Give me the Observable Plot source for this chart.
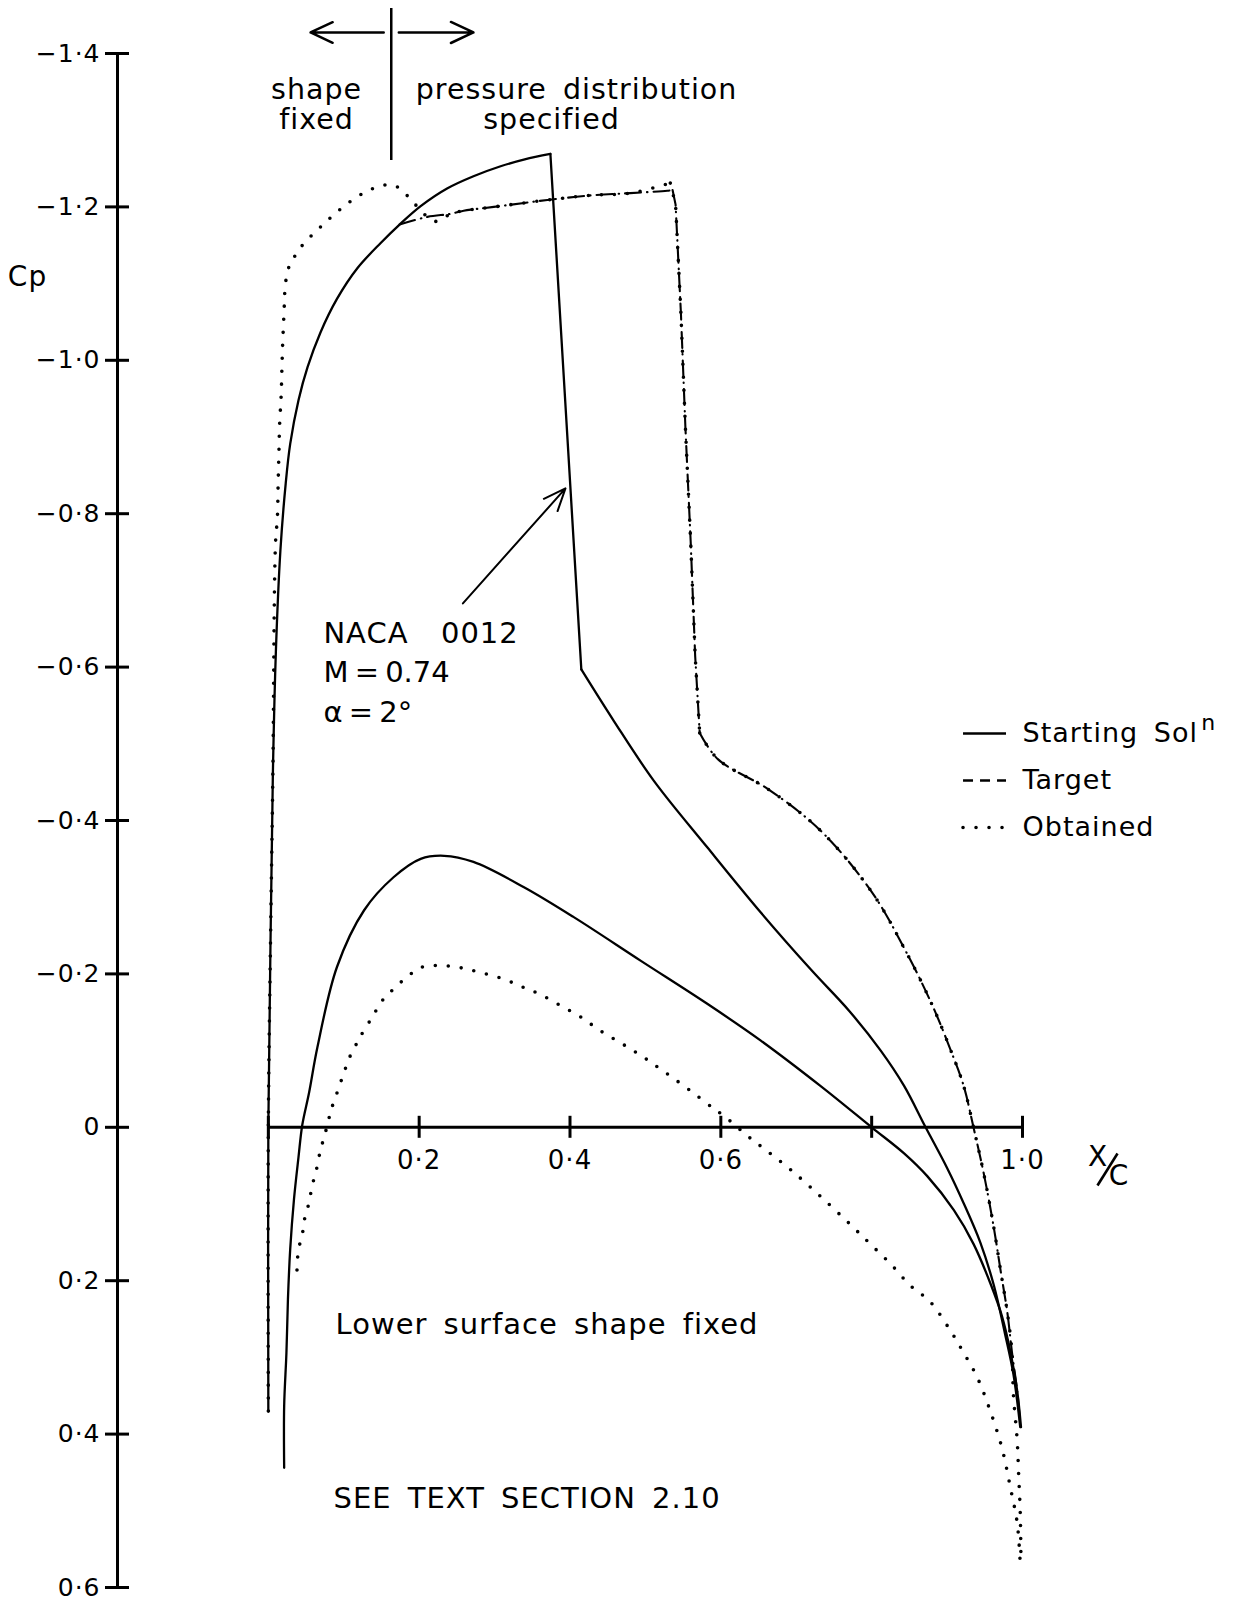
<!DOCTYPE html>
<html>
<head>
<meta charset="utf-8">
<script src="https://cdn.jsdelivr.net/npm/d3@7"></script>
<script src="https://cdn.jsdelivr.net/npm/@observablehq/plot@0.6"></script>
<style>
  html, body { margin: 0; padding: 0; background: #fff; }
  #chart svg { display: block; letter-spacing: 1px; word-spacing: 6px; }
</style>
</head>
<body>
<div id="chart"></div>
<script>
// Pressure distributions (Cp against x/c), NACA 0012, M = 0.74, alpha = 2 deg.
// Each series is a list of [x/c, Cp] pairs.

const startingUpper = [
  [0.000, 0.370], [0.000, 0.000], [0.003, -0.250], [0.006, -0.460], [0.010, -0.620],
  [0.016, -0.752], [0.023, -0.839], [0.029, -0.891], [0.040, -0.948], [0.052, -0.991],
  [0.069, -1.036], [0.091, -1.080], [0.118, -1.120], [0.149, -1.153], [0.174, -1.177],
  [0.202, -1.201], [0.237, -1.224], [0.272, -1.240], [0.308, -1.253], [0.340, -1.262],
  [0.374, -1.269], [0.415, -0.597], [0.458, -0.530], [0.511, -0.452], [0.582, -0.365],
  [0.653, -0.280], [0.720, -0.205], [0.770, -0.152], [0.812, -0.100], [0.843, -0.054],
  [0.871, -0.001], [0.900, 0.053], [0.922, 0.099], [0.944, 0.150], [0.962, 0.206],
  [0.977, 0.270], [0.988, 0.322], [0.997, 0.391]
];

const startingLower = [
  [0.021, 0.444], [0.021, 0.363], [0.024, 0.294], [0.026, 0.224], [0.029, 0.159],
  [0.034, 0.094], [0.040, 0.039], [0.045, -0.003], [0.054, -0.045], [0.065, -0.104],
  [0.091, -0.209], [0.127, -0.283], [0.166, -0.326], [0.202, -0.350], [0.233, -0.354],
  [0.272, -0.346], [0.339, -0.313], [0.405, -0.274], [0.494, -0.217], [0.582, -0.161],
  [0.653, -0.113], [0.732, -0.054], [0.800, 0.000], [0.843, 0.034], [0.874, 0.064],
  [0.909, 0.108], [0.935, 0.152], [0.958, 0.205], [0.973, 0.247], [0.984, 0.293],
  [0.993, 0.344], [0.998, 0.391]
];

const target = [
  [0.174, -1.177], [0.211, -1.187], [0.242, -1.191], [0.259, -1.195], [0.299, -1.200],
  [0.370, -1.209], [0.427, -1.215], [0.480, -1.218], [0.529, -1.221], [0.536, -1.222],
  [0.540, -1.203], [0.547, -1.063], [0.553, -0.913], [0.560, -0.764], [0.566, -0.614],
  [0.572, -0.514], [0.596, -0.480], [0.664, -0.440], [0.732, -0.387], [0.800, -0.307],
  [0.845, -0.230], [0.880, -0.160], [0.905, -0.100], [0.922, -0.054], [0.935, 0.000],
  [0.949, 0.062], [0.962, 0.131], [0.971, 0.187], [0.980, 0.242], [0.986, 0.293],
  [0.993, 0.344], [0.997, 0.386]
];

const obtainedUpper = [
  [0.000, 0.370], [0.000, 0.000], [0.003, -0.250], [0.006, -0.460], [0.0095, -0.761],
  [0.012, -0.795], [0.013, -0.839], [0.014, -0.878], [0.015, -0.917], [0.017, -0.954],
  [0.018, -0.989], [0.019, -1.021], [0.021, -1.067], [0.022, -1.091], [0.026, -1.118],
  [0.034, -1.134], [0.046, -1.151], [0.064, -1.169], [0.078, -1.182], [0.093, -1.195],
  [0.110, -1.208], [0.130, -1.220], [0.151, -1.228], [0.167, -1.228], [0.180, -1.219],
  [0.189, -1.209], [0.200, -1.198], [0.212, -1.186], [0.224, -1.181], [0.242, -1.191],
  [0.259, -1.195], [0.299, -1.200], [0.370, -1.209], [0.427, -1.215], [0.480, -1.218],
  [0.533, -1.231], [0.540, -1.203], [0.547, -1.063], [0.553, -0.913], [0.560, -0.764],
  [0.566, -0.614], [0.572, -0.514], [0.596, -0.480], [0.664, -0.440], [0.732, -0.387],
  [0.800, -0.307], [0.845, -0.230], [0.880, -0.160], [0.905, -0.100], [0.922, -0.054],
  [0.935, 0.000], [0.949, 0.062], [0.962, 0.131], [0.971, 0.187], [0.980, 0.242],
  [0.986, 0.293], [0.988, 0.349], [0.993, 0.409], [0.995, 0.455], [0.997, 0.502],
  [0.998, 0.569]
];

const obtainedLower = [
  [0.038, 0.186], [0.040, 0.159], [0.045, 0.141], [0.047, 0.124], [0.052, 0.106],
  [0.056, 0.087], [0.060, 0.069], [0.065, 0.050], [0.069, 0.030], [0.074, 0.013],
  [0.080, -0.010], [0.083, -0.022], [0.089, -0.039], [0.096, -0.059], [0.102, -0.076],
  [0.109, -0.094], [0.117, -0.109], [0.123, -0.120], [0.138, -0.144], [0.151, -0.165],
  [0.169, -0.183], [0.189, -0.200], [0.204, -0.209], [0.228, -0.211], [0.255, -0.208],
  [0.281, -0.202], [0.310, -0.194], [0.337, -0.183], [0.359, -0.174], [0.387, -0.159],
  [0.414, -0.144], [0.440, -0.126], [0.469, -0.109], [0.498, -0.091], [0.527, -0.071],
  [0.562, -0.046], [0.591, -0.024], [0.604, -0.015], [0.635, 0.011], [0.660, 0.030],
  [0.691, 0.054], [0.732, 0.090], [0.772, 0.127], [0.798, 0.152], [0.825, 0.178],
  [0.851, 0.206], [0.878, 0.228], [0.905, 0.266], [0.922, 0.294], [0.940, 0.326],
  [0.958, 0.372], [0.973, 0.419], [0.984, 0.470], [0.993, 0.516], [0.997, 0.569]
];

// Shock positions (x/c) where a curve turns a sharp corner
const startingShock = [0.374, 0.415];
const targetShock = [0.536, 0.572];
const obtainedShock = [0.533, 0.572];

// Axis ticks and labels
const xTicks = [0, 0.2, 0.4, 0.6, 0.8, 1.0];
const xTickLabels = [0.2, 0.4, 0.6, 1.0];
const yTicks = [-1.4, -1.2, -1.0, -0.8, -0.6, -0.4, -0.2, 0, 0.2, 0.4, 0.6];
const yAxisAt = -0.2;

// Legend entries
const legendLabels = ["Starting Sol", "Target", "Obtained"];

// ---------------------------------------------------------------------------
const fmt = v => {
  if (v === 0) return "0";
  const s = Math.abs(v).toFixed(1).replace(".", "\u00b7");
  return v < 0 ? "\u2212" + s : s;
};

const toRows = pts => pts.map(([x, cp]) => ({x, cp}));
// split a curve at two corner positions: before, between (straight), after
const pieces = (pts, [a, b]) => [
  toRows(pts.filter(([x]) => x <= a)),
  toRows(pts.filter(([x]) => x >= a && x <= b)),
  toRows(pts.filter(([x]) => x >= b))
];

const FONT = "DejaVu Sans";
const solid = {stroke: "black", strokeWidth: 2.3};
const dashDot = {stroke: "black", strokeWidth: 2.1, strokeDasharray: "16,6,0.5,6", strokeLinecap: "round"};
const dotted = {stroke: "black", strokeWidth: 3.6, strokeDasharray: "0,13", strokeLinecap: "round"};

const curveMarks = (pts, corners, style) => {
  const [pre, mid, post] = pieces(pts, corners);
  return [
    Plot.line(pre, {x: "x", y: "cp", curve: "catmull-rom", ...style}),
    Plot.line(mid, {x: "x", y: "cp", curve: "linear", ...style}),
    Plot.line(post, {x: "x", y: "cp", curve: "catmull-rom", ...style})
  ];
};

// annotation placement in data units (x/c, Cp)
const separator = {x: 0.163, y1: -1.4587, y2: -1.2605};
const arrowsTop = [
  {x1: 0.153, x2: 0.056, y: -1.4274},
  {x1: 0.173, x2: 0.272, y: -1.4274}
];
const pointer = {x1: 0.258, y1: -0.683, x2: 0.394, y2: -0.833};
const headings = [
  {x: 0.064, y: -1.3413, t: "shape"},
  {x: 0.064, y: -1.3022, t: "fixed"},
  {x: 0.4087, y: -1.3413, t: "pressure distribution"},
  {x: 0.3755, y: -1.3022, t: "specified"}
];
const notes = [
  {x: 0.0730, y: -0.632, t: "NACA  0012"},
  {x: 0.0730, y: -0.580, t: "M = 0.74"},
  {x: 0.0730, y: -0.529, t: "\u03b1 = 2\u00b0"},
  {x: 0.0891, y: 0.270, t: "Lower surface shape fixed"},
  {x: 0.0864, y: 0.4957, t: "SEE TEXT SECTION 2.10"}
];
const legendRows = [-0.5134, -0.4521, -0.3909];
const legendBase = [-0.5017, -0.4417, -0.3804];
const legendX = {x1: 0.9218, x2: 0.9788, text: 1.0};
const legendLines = legendLabels.map((label, i) => ({label, y: legendRows[i], i}));

const chart = Plot.plot({
  width: 1238,
  height: 1607,
  marginLeft: 117,
  marginRight: 216,
  marginTop: 53,
  marginBottom: 20,
  style: {fontFamily: FONT, background: "white", color: "black"},
  x: {domain: [yAxisAt, 1.0], axis: null},
  y: {domain: [-1.4, 0.6], reverse: true, axis: null},
  marks: [
    // Cp axis
    Plot.ruleX([yAxisAt], {y1: yTicks[0], y2: yTicks[yTicks.length - 1], strokeWidth: 3}),
    Plot.ruleY(yTicks, {y: d => d, x1: yAxisAt, x2: yAxisAt, insetLeft: -12, insetRight: -12, strokeWidth: 3}),
    Plot.text(yTicks, {x: yAxisAt, y: d => d, text: fmt, textAnchor: "end", dx: -17, fontSize: 25}),
    Plot.text(["Cp"], {x: -0.3193, y: -1.108, text: d => d, fontSize: 28, textAnchor: "middle"}),

    // x/c axis
    Plot.ruleY([0], {x1: xTicks[0], x2: xTicks[xTicks.length - 1], strokeWidth: 3}),
    Plot.ruleX(xTicks, {x: d => d, y1: 0, y2: 0, insetTop: -11, insetBottom: -11, strokeWidth: 3}),
    Plot.text(xTickLabels, {x: d => d, y: 0, text: fmt, dy: 33, fontSize: 26, textAnchor: "middle"}),
    Plot.text(["X"], {x: 1.1001, y: 0.0387, text: d => d, fontSize: 28}),
    Plot.link([{x1: 1.0994, y1: 0.0759, x2: 1.1260, y2: 0.0342}], {x1: "x1", y1: "y1", x2: "x2", y2: "y2", strokeWidth: 2.6}),
    Plot.text(["C"], {x: 1.1279, y: 0.0629, text: d => d, fontSize: 28}),

    // curves
    ...curveMarks(startingUpper, startingShock, solid),
    Plot.line(toRows(startingLower), {x: "x", y: "cp", curve: "catmull-rom", ...solid}),
    ...curveMarks(target, targetShock, dashDot),
    ...curveMarks(obtainedUpper, obtainedShock, dotted),
    Plot.line(toRows(obtainedLower), {x: "x", y: "cp", curve: "catmull-rom", ...dotted}),

    // region divider and arrows at the top
    Plot.ruleX([separator], {x: "x", y1: "y1", y2: "y2", strokeWidth: 2.5}),
    Plot.arrow(arrowsTop, {x1: "x1", x2: "x2", y1: "y", y2: "y", strokeWidth: 2.5, headLength: 16, headAngle: 50}),
    Plot.arrow([pointer], {x1: "x1", y1: "y1", x2: "x2", y2: "y2", strokeWidth: 2, headLength: 18, headAngle: 45}),

    // text annotations
    Plot.text(headings, {x: "x", y: "y", text: "t", textAnchor: "middle", lineAnchor: "bottom", fontSize: 28.5}),
    Plot.text(notes, {x: "x", y: "y", text: "t", textAnchor: "start", lineAnchor: "bottom", fontSize: 29}),

    // legend
    Plot.ruleY(legendLines.filter(d => d.i === 0), {y: "y", x1: legendX.x1, x2: legendX.x2, strokeWidth: 2.4}),
    Plot.ruleY(legendLines.filter(d => d.i === 1), {y: "y", x1: legendX.x1, x2: legendX.x2, strokeWidth: 2.4, strokeDasharray: "10,7"}),
    Plot.ruleY(legendLines.filter(d => d.i === 2), {y: "y", x1: legendX.x1, x2: legendX.x2, strokeWidth: 3.6, strokeDasharray: "0,13", strokeLinecap: "round"}),
    Plot.text(legendLabels, {x: legendX.text, y: (d, i) => legendBase[i], text: d => d, textAnchor: "start", lineAnchor: "bottom", fontSize: 27}),
    Plot.text(["n"], {x: 1.237, y: -0.5186, text: d => d, textAnchor: "start", lineAnchor: "bottom", fontSize: 22})
  ]
});

// the flow-condition lines are set a little tighter than the other notes
for (const t of chart.querySelectorAll("text")) {
  const s = t.textContent;
  if (s.startsWith("M =") || s.startsWith("\u03b1 =")) {
    t.style.letterSpacing = "0px";
    t.style.wordSpacing = "-3px";
  }
}

document.getElementById("chart").appendChild(chart);
</script>
</body>
</html>
